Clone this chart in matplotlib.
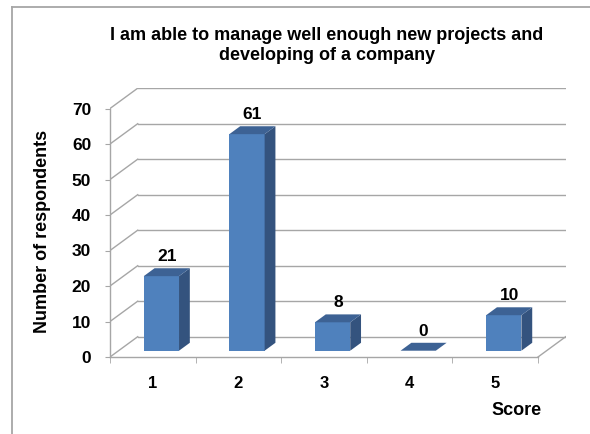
import matplotlib
matplotlib.use('Agg')
import matplotlib.pyplot as plt
from matplotlib.patches import Polygon
from matplotlib.lines import Line2D

# ---- data ----
title = "I am able to manage well enough new projects and\ndeveloping of a company"
categories = ["1", "2", "3", "4", "5"]
values = [21, 61, 8, 0, 10]
y_ticks = [0, 10, 20, 30, 40, 50, 60, 70]
x_label = "Score"
y_label = "Number of respondents"

plt.rcParams['font.family'] = ['Liberation Sans', 'DejaVu Sans']

W, H = 590, 434
fig = plt.figure(figsize=(W / 100, H / 100), dpi=100)
fig.patch.set_facecolor('white')

# ---- layout (pixels) ----
left_px, front_bottom_px = 110, 357
front_right_px = 538
front_top_px = 108.5
depth_px = (27.7, 20.3)
n = len(categories)
ymax = y_ticks[-1]
ux = (front_right_px - left_px) / n
uy = (front_bottom_px - front_top_px) / ymax
DX = depth_px[0] / ux
DY = depth_px[1] / uy
xlo, xhi = 0.5, n + 0.5 + DX
ylo, yhi = 0, ymax + DY
ax_w = (xhi - xlo) * ux
ax_h = (yhi - ylo) * uy
ax = fig.add_axes([left_px / W, (H - front_bottom_px) / H, ax_w / W, ax_h / H])
ax.set_xlim(xlo, xhi)
ax.set_ylim(ylo, yhi)
ax.patch.set_visible(False)

grid_c = '#A6A6A6'
for s in ['top', 'right']:
    ax.spines[s].set_visible(False)
ax.spines['left'].set_bounds(0, ymax)
ax.spines['bottom'].set_bounds(0.5, n + 0.5)
for s in ['left', 'bottom']:
    ax.spines[s].set_color(grid_c)
    ax.spines[s].set_linewidth(1.0)

# back wall gridlines and side wall diagonals
for t in y_ticks:
    ax.plot([0.5 + DX, n + 0.5 + DX], [t + DY, t + DY], color=grid_c, lw=1.0, zorder=1)
    ax.plot([0.5, 0.5 + DX], [t, t + DY], color=grid_c, lw=1.0, zorder=1)
ax.plot([n + 0.5, n + 0.5 + DX], [0, DY], color=grid_c, lw=1.0, zorder=1)

# ---- 3D-looking bars ----
front_c, side_c, top_c = '#4F81BD', '#34537E', '#3D6294'
d0, dd, bw = 0.31, 0.39, 0.412
ox, oy = dd * DX, dd * DY
for i, v in enumerate(values):
    c = i + 1
    xa = c - bw / 2 + d0 * DX
    xb = xa + bw
    yb = d0 * DY
    yt = v + d0 * DY
    if v > 0:
        ax.add_patch(Polygon([(xa, yb), (xb, yb), (xb, yt), (xa, yt)], closed=True,
                             facecolor=front_c, edgecolor='none', zorder=3))
        ax.add_patch(Polygon([(xb, yb), (xb + ox, yb + oy), (xb + ox, yt + oy), (xb, yt)],
                             closed=True, facecolor=side_c, edgecolor='none', zorder=3))
    ax.add_patch(Polygon([(xa, yt), (xb, yt), (xb + ox, yt + oy), (xa + ox, yt + oy)],
                         closed=True, facecolor=top_c, edgecolor='none', zorder=3))
    ax.annotate(str(v), xy=(c + (d0 + dd / 2) * DX, yt + oy), xytext=(0, 7),
                textcoords='offset pixels', ha='center', va='baseline',
                fontsize=12.5, fontweight='bold', color='black', zorder=4)

# ---- ticks ----
ax.set_xticks(range(1, n + 1), categories)
ax.set_xticks([k + 0.5 for k in range(n + 1)], minor=True)
ax.tick_params(axis='x', which='major', length=0, pad=14, labelsize=12)
ax.tick_params(axis='x', which='minor', length=4, color=grid_c, direction='out')
ax.set_yticks(y_ticks)
ax.tick_params(axis='y', length=3.5, color=grid_c, direction='out', pad=10, labelsize=12.5)
for lab in ax.get_xticklabels() + ax.get_yticklabels():
    lab.set_fontweight('bold')

ax.set_ylabel(y_label, fontsize=13, fontweight='bold', va='center')
ax.yaxis.set_label_coords((43 - left_px) / ax_w, (front_bottom_px - 231.5) / ax_h)
ax.set_xlabel(x_label, fontsize=13, fontweight='bold', va='center')
ax.xaxis.set_label_coords((517 - left_px) / ax_w, (front_bottom_px - 410.5) / ax_h)

# ---- title ----
fig.text(327 / W, 1 - 27.3 / H, title, ha='center', va='top', fontsize=13,
         fontweight='bold', linespacing=1.2)

# ---- outer frame (top and left edges) ----
fig.add_artist(Line2D([12 / W, 1], [1 - 7 / H, 1 - 7 / H], transform=fig.transFigure,
                      color='#A6A6A6', lw=1.3))
fig.add_artist(Line2D([12 / W, 12 / W], [0, 1 - 7 / H], transform=fig.transFigure,
                      color='#A6A6A6', lw=1.3))

fig.savefig('out.png', dpi=100)
